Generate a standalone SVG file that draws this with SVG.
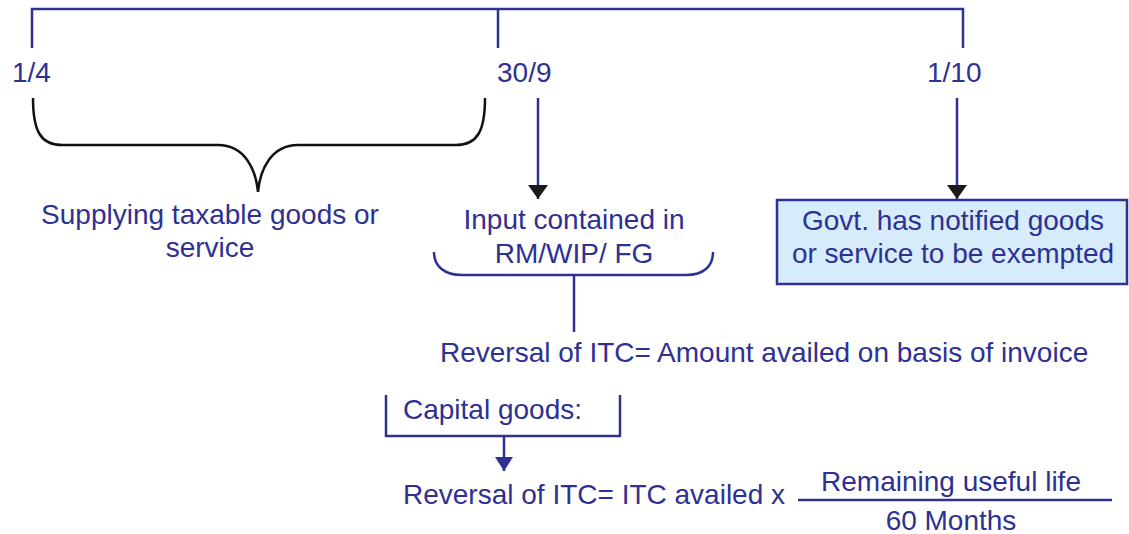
<svg xmlns="http://www.w3.org/2000/svg" width="1129" height="534" viewBox="0 0 1129 534">
<defs>
<style>
.t{font-family:"Liberation Sans",Arial,sans-serif;font-size:28px;fill:#2E3192}
.m{text-anchor:middle}
.ln{stroke:#2E3192;stroke-width:2.5;fill:none}
.br{stroke:#111;stroke-width:2.5;fill:none}
</style>
<marker id="ah" viewBox="0 0 14 20" refX="14" refY="10" markerWidth="14" markerHeight="20" markerUnits="userSpaceOnUse" orient="auto">
<path d="M0,0 L14,10 L0,20 Z" fill="#1a1a1a"/>
</marker>
<marker id="ah2" viewBox="0 0 14 18" refX="14" refY="9" markerWidth="14" markerHeight="18" markerUnits="userSpaceOnUse" orient="auto">
<path d="M0,0 L14,9 L0,18 Z" fill="#2E3192"/>
</marker>
</defs>
<rect width="1129" height="534" fill="#fff"/>
<g id="connectors">
<path class="ln" d="M32,48 V9 H963 V48 M498,9 V48"/>
<path class="br" d="M33,98 C33,130 40,145 62,145 H218 C245,145 256,170 258,192 C260,170 271,145 298,145 H456 C478,145 485,130 485,98"/>
<path class="ln" d="M538,98 V199" marker-end="url(#ah)"/>
<path class="ln" d="M957,98 V199" marker-end="url(#ah)"/>
<path class="ln" d="M434,252 C434,266 444,275 462,275 H686 C704,275 713,266 713,252"/>
<path class="ln" d="M574,275 V332"/>
<path class="ln" d="M386,395 V436 H620 V395"/>
<path class="ln" d="M504,436 V471" marker-end="url(#ah2)"/>
<path class="ln" d="M798,500 H1112"/>
</g>
<g id="d14"><text class="t" x="12" y="82">1/4</text></g>
<g id="d309"><text class="t" x="497" y="82">30/9</text></g>
<g id="d110"><text class="t" x="927" y="82">1/10</text></g>
<g id="supply"><text class="t m" x="210" y="224">Supplying taxable goods or</text><text class="t m" x="210" y="257">service</text></g>
<g id="input"><text class="t m" x="574" y="229">Input contained in</text><text class="t m" x="574" y="263">RM/WIP/ FG</text></g>
<g id="govt"><rect x="777" y="200" width="350" height="84" fill="#D6ECFA" stroke="#2E3192" stroke-width="2.5"/><text class="t m" x="953" y="230">Govt. has notified goods</text><text class="t m" x="953" y="263">or service to be exempted</text></g>
<g id="rev1"><text class="t" x="440" y="362">Reversal of ITC= Amount availed on basis of invoice</text></g>
<g id="capital"><text class="t" x="403" y="419">Capital goods:</text></g>
<g id="rev2"><text class="t" x="403" y="504">Reversal of ITC= ITC availed x</text><text class="t m" x="951" y="491">Remaining useful life</text><text class="t m" x="951" y="530">60 Months</text></g>
</svg>
